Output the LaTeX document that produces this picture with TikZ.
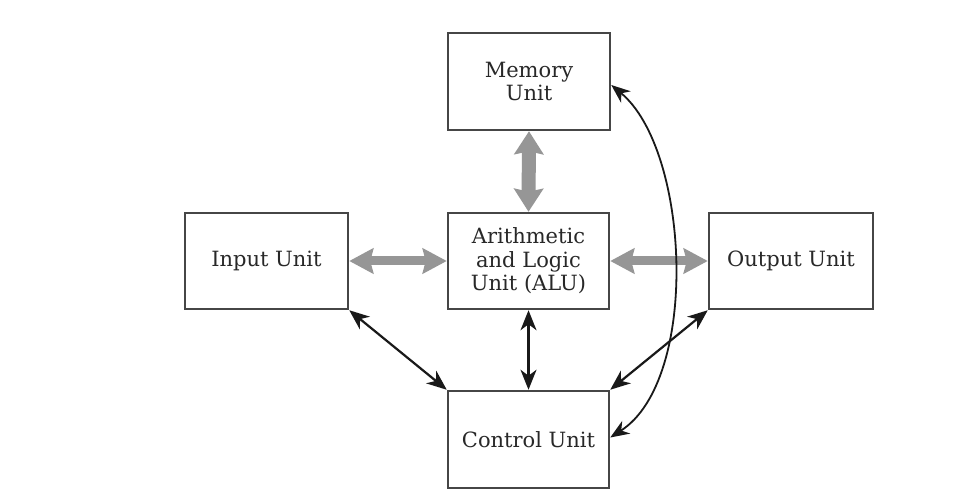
\documentclass[tikz,border=0pt]{standalone}
\usepackage{fontspec}
\setmainfont{DejaVu Serif}
\usetikzlibrary{arrows.meta}
\definecolor{boxline}{RGB}{70,70,70}
\definecolor{txt}{RGB}{40,40,40}
\definecolor{garrow}{RGB}{150,150,150}
\tikzset{
  unitbox/.style={draw=boxline, line width=2.5pt, fill=white, align=center,
    text=txt, inner sep=0pt, font=\fontsize{21}{23.5}\selectfont},
  grayv/.style={draw=garrow, line width=14pt,
    {Stealth[length=23pt,width=29pt,inset=3pt]}-{Stealth[length=23pt,width=29pt,inset=3pt]}},
  grayh/.style={draw=garrow, line width=9pt,
    {Stealth[length=24pt,width=25pt,inset=3pt]}-{Stealth[length=24pt,width=25pt,inset=3pt]}},
  blackarrow/.style={draw=black!90, line width=2.2pt,
    {Stealth[length=20pt,width=16pt,inset=6pt]}-{Stealth[length=20pt,width=16pt,inset=6pt]}},
  curvearrow/.style={draw=black!90, line width=1.8pt,
    {Stealth[length=19pt,width=15pt,inset=6pt]}-{Stealth[length=19pt,width=15pt,inset=6pt]}}
}
\begin{document}
\begin{tikzpicture}[x=1pt,y=-1pt]
\useasboundingbox[fill=white] (0,0) rectangle (977,494);
\node[unitbox, minimum width=162pt, minimum height=97pt] (mem) at (529,81.5) {Memory\\Unit};
\node[unitbox, minimum width=161pt, minimum height=96pt] (alu) at (528.5,261) {Arithmetic\\and Logic\\Unit (ALU)};
\node[unitbox, minimum width=163pt, minimum height=96pt] (inp) at (266.5,261) {Input Unit};
\node[unitbox, minimum width=164pt, minimum height=96pt] (out) at (791,261) {Output Unit};
\node[unitbox, minimum width=161pt, minimum height=97pt] (ctrl) at (528.5,439.5) {Control Unit};
\draw[grayv] (mem.south) -- (alu.north);
\draw[grayh] (inp.east) -- (alu.west);
\draw[grayh] (alu.east) -- (out.west);
\draw[blackarrow] (inp.south east) -- (ctrl.north west);
\draw[blackarrow] (alu.south) -- (ctrl.north);
\draw[blackarrow] (out.south west) -- (ctrl.north east);
\draw[curvearrow] ([yshift=2pt]ctrl.east) .. controls (700,380) and (690,150) .. ([yshift=-3.5pt]mem.east);
\end{tikzpicture}
\end{document}
